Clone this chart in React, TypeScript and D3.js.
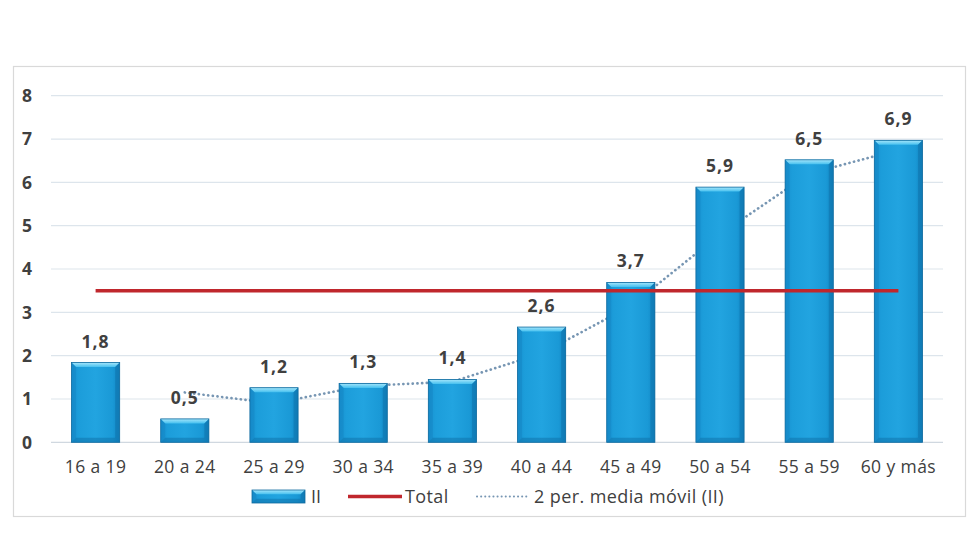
import React from "react";
import * as d3 from "d3";

const categories = ["16 a 19", "20 a 24", "25 a 29", "30 a 34", "35 a 39", "40 a 44", "45 a 49", "50 a 54", "55 a 59", "60 y más"];
const barValues = [1.84, 0.54, 1.26, 1.36, 1.45, 2.66, 3.69, 5.89, 6.52, 6.97];
const barLabels = ["1,8", "0,5", "1,2", "1,3", "1,4", "2,6", "3,7", "5,9", "6,5", "6,9"];
const totalValue = 3.5;
const movingAvg: (number | null)[] = [null, 1.15, 0.9, 1.3, 1.4, 2.05, 3.15, 4.8, 6.2, 6.75];
const yTicks = [0, 1, 2, 3, 4, 5, 6, 7, 8];
const legendLabels = ["II", "Total", "2 per. media móvil (II)"];

const W = 980, H = 560;
const plotL = 51, plotR = 943, plotT = 95.7, plotB = 442.3;
const FONT = "'Open Sans', 'Noto Sans', sans-serif";
const TXT = "#404040";

function Bevel({ x, y, w, h }: { x: number; y: number; w: number; h: number }) {
  const b = Math.min(4.5, h / 3);
  return (
    <g>
      <rect x={x} y={y} width={w} height={h} fill="url(#barGrad)" />
      <polygon points={`${x},${y} ${x + w},${y} ${x + w - b},${y + b} ${x + b},${y + b}`} fill="url(#topGrad)" />
      <polygon points={`${x},${y} ${x + b},${y + b} ${x + b},${y + h - b} ${x},${y + h}`} fill="#1483c2" opacity={0.45} />
      <polygon points={`${x + w},${y} ${x + w - b},${y + b} ${x + w - b},${y + h - b} ${x + w},${y + h}`} fill="#0d6fa8" opacity={0.5} />
      <polygon points={`${x},${y + h} ${x + b},${y + h - b} ${x + w - b},${y + h - b} ${x + w},${y + h}`} fill="#0d6fa8" opacity={0.5} />
      <rect x={x} y={y} width={w} height={h} fill="none" stroke="#0f6a9e" strokeWidth={0.8} />
    </g>
  );
}

export default function App() {
  const x = d3.scaleBand<string>().domain(categories).range([plotL, plotR]).paddingInner(0.46).paddingOuter(0.23);
  const y = d3.scaleLinear().domain([0, 8]).range([plotB, plotT]);
  const cx = (c: string) => (x(c) as number) + x.bandwidth() / 2;

  const maLine = d3
    .line<number | null>()
    .defined((d) => d !== null)
    .x((_, i) => cx(categories[i]))
    .y((d) => y(d as number));

  return (
    <svg width={W} height={H} style={{ position: "absolute", left: 0, top: 0, background: "#fff" }} fontFamily={FONT}>
      <defs>
        <linearGradient id="barGrad" x1="0" x2="1" y1="0" y2="0">
          <stop offset="0" stopColor="#1890cf" />
          <stop offset="0.15" stopColor="#1c9dda" />
          <stop offset="0.5" stopColor="#22a4e0" />
          <stop offset="0.85" stopColor="#1a99d6" />
          <stop offset="1" stopColor="#1184c2" />
        </linearGradient>
        <linearGradient id="topGrad" x1="0" x2="0" y1="0" y2="1">
          <stop offset="0" stopColor="#a6e6fb" />
          <stop offset="1" stopColor="#45c0ef" />
        </linearGradient>
      </defs>
      <rect x={0} y={0} width={W} height={H} fill="#fff" />
      <rect x={13.5} y={66.5} width={952} height={450} fill="#fff" stroke="#d9d9d9" strokeWidth={1.2} />

      {yTicks.map((t) => (
        <g key={t}>
          <line x1={plotL} x2={plotR} y1={y(t)} y2={y(t)} stroke={t === 0 ? "#d0d8e0" : "#dde5ec"} strokeWidth={1.2} />
          <text x={32} y={y(t)} dy="0.36em" textAnchor="end" fontSize={17.5} fontWeight={700} fill={TXT}>
            {t}
          </text>
        </g>
      ))}

      <path d={maLine(movingAvg) || ""} fill="none" stroke="#7796b3" strokeWidth={2.7} strokeDasharray="0.1 4.6" strokeLinecap="round" />

      {categories.map((c, i) => (
        <Bevel key={c} x={x(c) as number} y={y(barValues[i])} w={x.bandwidth()} h={y(0) - y(barValues[i])} />
      ))}

      <line x1={cx(categories[0])} x2={cx(categories[categories.length - 1])} y1={y(totalValue)} y2={y(totalValue)} stroke="#c0272d" strokeWidth={3.5} />

      {categories.map((c, i) => (
        <text key={c} x={cx(c)} y={y(barValues[i]) - 15} textAnchor="middle" fontSize={17.5} fontWeight={700} letterSpacing={1} fill={TXT}>
          {barLabels[i]}
        </text>
      ))}

      {categories.map((c) => (
        <text key={c} x={cx(c)} y={473} textAnchor="middle" fontSize={17.5} letterSpacing={0.4} fill={TXT}>
          {c}
        </text>
      ))}

      <g>
        <Bevel x={252} y={490} w={53} h={13} />
        <text x={311} y={503} fontSize={18} fill={TXT}>{legendLabels[0]}</text>
        <line x1={348} x2={402} y1={496.5} y2={496.5} stroke="#c0272d" strokeWidth={3.5} />
        <text x={405} y={503} fontSize={18} letterSpacing={0.4} fill={TXT}>{legendLabels[1]}</text>
        <line x1={477} x2={528} y1={496.5} y2={496.5} stroke="#7796b3" strokeWidth={2} strokeDasharray="0.1 4" strokeLinecap="round" />
        <text x={534} y={503} fontSize={18} letterSpacing={0.4} fill={TXT}>{legendLabels[2]}</text>
      </g>
    </svg>
  );
}
